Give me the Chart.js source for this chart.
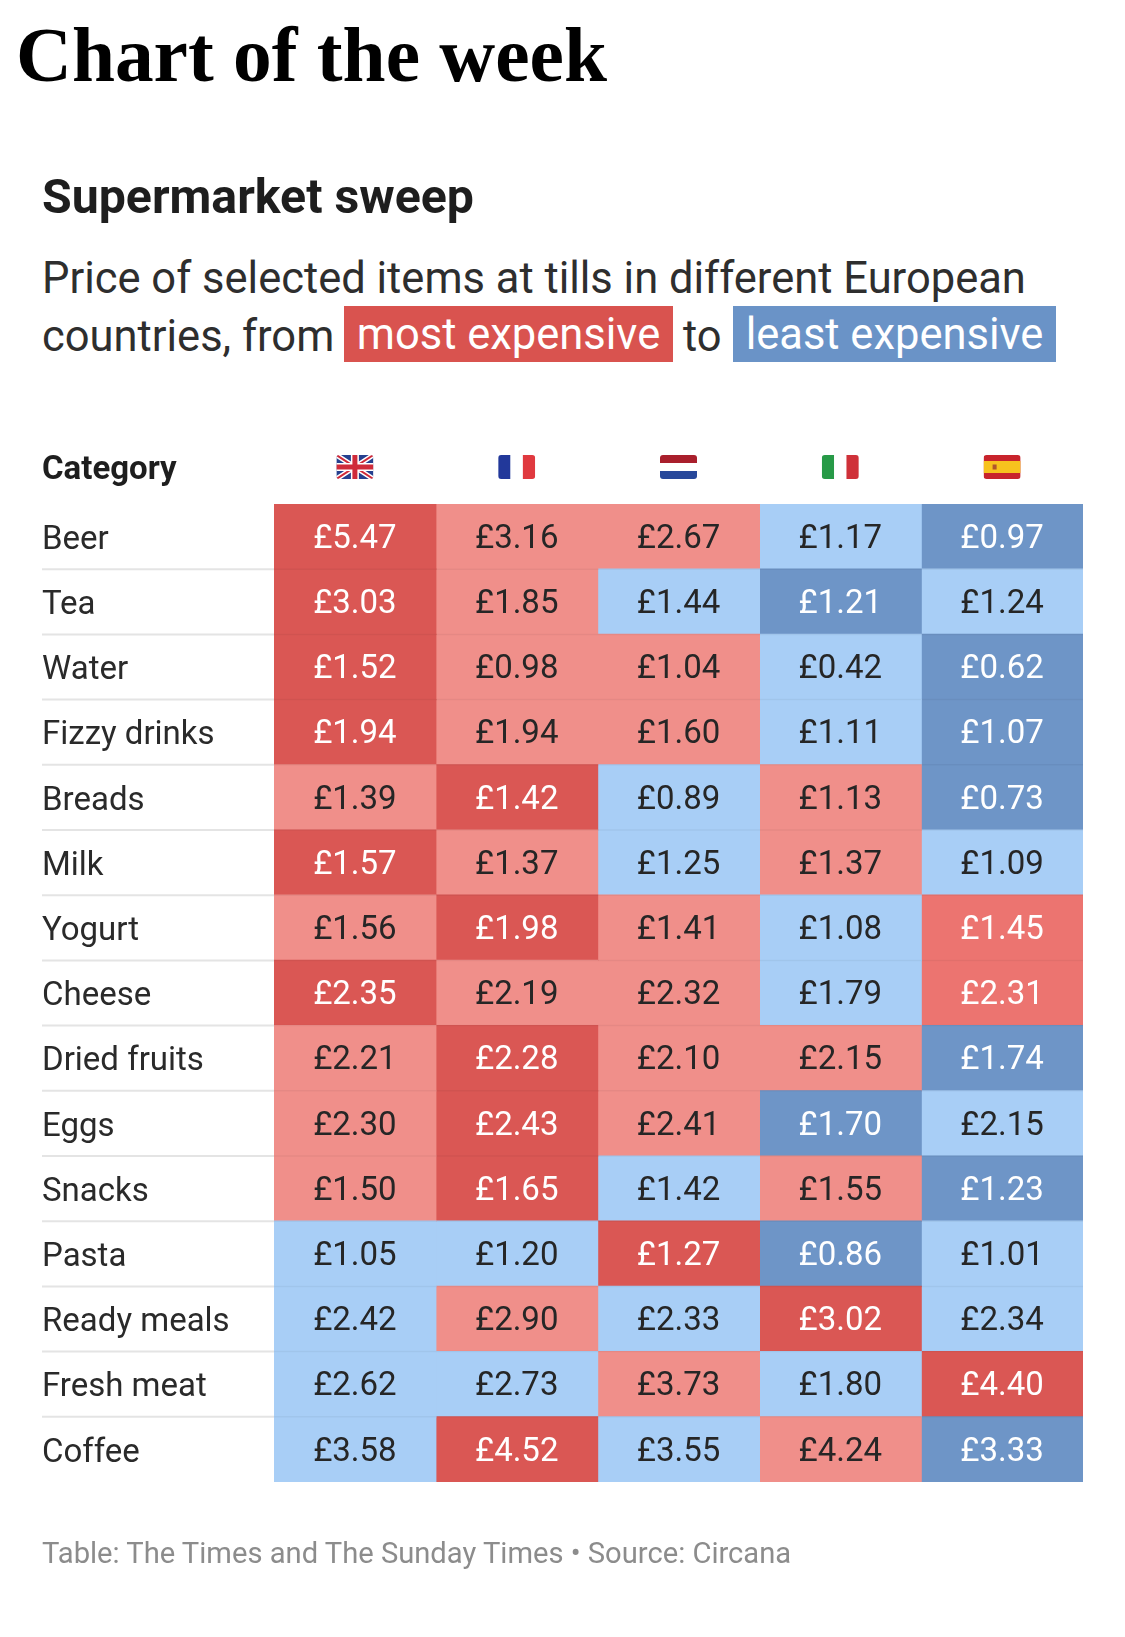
<!DOCTYPE html>
<html>
<head>
<meta charset="utf-8">
<script src="https://cdn.jsdelivr.net/npm/chart.js@4.4.1/dist/chart.umd.min.js"></script>
<style>
  html, body { margin:0; padding:0; background:#fff; width:1125px; height:1637px; overflow:hidden; }
  .t { position:absolute; white-space:nowrap; margin:0; }
  #title { font-family:"Liberation Serif", serif; font-weight:bold; color:#000; }
  #headline { font-family:Roboto, sans-serif; font-weight:bold; color:#1e1e1e; }
  .sub { font-family:Roboto, sans-serif; font-weight:normal; color:#2e2e2e; }
  .box { position:absolute; color:#fff; font-family:Roboto, sans-serif; text-align:center; white-space:nowrap; }
  #foot { font-family:Roboto, sans-serif; color:#8c8c8c; }
  #wrap { position:absolute; left:0; top:420px; width:1125px; height:1120px; }
</style>
</head>
<body>
<div id="title" class="t">Chart of the week</div>
<div id="headline" class="t">Supermarket sweep</div>
<div id="sub1" class="t sub">Price of selected items at tills in different European</div>
<div id="sub2a" class="t sub">countries, from</div>
<div id="boxRed" class="box">most expensive</div>
<div id="sub2b" class="t sub">to</div>
<div id="boxBlue" class="box">least expensive</div>
<div id="wrap"><canvas id="c" width="1125" height="1120"></canvas></div>
<div id="foot" class="t">Table: The Times and The Sunday Times • Source: Circana</div>
<script>
// ---------------- DATA ----------------
const countries = ['UK', 'France', 'Netherlands', 'Italy', 'Spain'];
const categories = ['Beer', 'Tea', 'Water', 'Fizzy drinks', 'Breads', 'Milk', 'Yogurt', 'Cheese',
  'Dried fruits', 'Eggs', 'Snacks', 'Pasta', 'Ready meals', 'Fresh meat', 'Coffee'];

const priceUK          = [5.47, 3.03, 1.52, 1.94, 1.39, 1.57, 1.56, 2.35, 2.21, 2.30, 1.50, 1.05, 2.42, 2.62, 3.58];
const priceFrance      = [3.16, 1.85, 0.98, 1.94, 1.42, 1.37, 1.98, 2.19, 2.28, 2.43, 1.65, 1.20, 2.90, 2.73, 4.52];
const priceNetherlands = [2.67, 1.44, 1.04, 1.60, 0.89, 1.25, 1.41, 2.32, 2.10, 2.41, 1.42, 1.27, 2.33, 3.73, 3.55];
const priceItaly       = [1.17, 1.21, 0.42, 1.11, 1.13, 1.37, 1.08, 1.79, 2.15, 1.70, 1.55, 0.86, 3.02, 1.80, 4.24];
const priceSpain       = [0.97, 1.24, 0.62, 1.07, 0.73, 1.09, 1.45, 2.31, 1.74, 2.15, 1.23, 1.01, 2.34, 4.40, 3.33];

// colour band: 0 most expensive, 1 expensive, 4 fairly expensive, 2 cheap, 3 least expensive
const bandUK          = [0, 0, 0, 0, 1, 0, 1, 0, 1, 1, 1, 2, 2, 2, 2];
const bandFrance      = [1, 1, 1, 1, 0, 1, 0, 1, 0, 0, 0, 2, 1, 2, 0];
const bandNetherlands = [1, 2, 1, 1, 2, 2, 1, 1, 1, 1, 2, 0, 2, 1, 2];
const bandItaly       = [2, 3, 2, 2, 1, 1, 2, 2, 1, 3, 1, 3, 0, 2, 1];
const bandSpain       = [3, 2, 3, 3, 3, 2, 4, 4, 3, 2, 3, 2, 2, 0, 3];

const prices = [priceUK, priceFrance, priceNetherlands, priceItaly, priceSpain];
const bands  = [bandUK, bandFrance, bandNetherlands, bandItaly, bandSpain];

// ---------------- STYLE ----------------
const bandFill = ['#da5754', '#f08f8a', '#a8cef6', '#6e95c7', '#ec7470'];
const bandText = ['#ffffff', '#262626', '#262626', '#ffffff', '#ffffff'];

// ---------------- HTML text placement ----------------
const mc = document.createElement('canvas').getContext('2d');
function measure(text, font) { mc.font = font; return mc.measureText(text).width; }
function place(id, x, baseline, size) {
  const el = document.getElementById(id);
  el.style.fontSize = size + 'px';
  el.style.lineHeight = size + 'px';
  el.style.left = x + 'px';
  el.style.top = (baseline - 0.84 * size) + 'px';
}
function fitSize(text, fontTpl, size0, targetW) {
  return size0 * targetW / measure(text, fontTpl.replace('{s}', size0));
}
const sTitle = fitSize('Chart of the week', 'bold {s}px "Liberation Serif"', 77, 591);
place('title', 16, 82, sTitle);
const sHead = fitSize('Supermarket sweep', 'bold {s}px Roboto', 46, 432);
place('headline', 42, 214, sHead);
const sSub = fitSize('Price of selected items at tills in different European', '{s}px Roboto', 42, 984);
place('sub1', 42, 294, sSub);
place('sub2a', 42, 352, sSub);
place('sub2b', 683, 352, sSub);
function box(id, x1, y1, x2, y2, bg) {
  const el = document.getElementById(id);
  Object.assign(el.style, { left: x1 + 'px', top: y1 + 'px', width: (x2 - x1) + 'px', height: (y2 - y1) + 'px',
    background: bg, fontSize: sSub + 'px', lineHeight: (y2 - y1 + 2) + 'px' });
}
box('boxRed', 344, 306, 673, 362, '#d9534f');
box('boxBlue', 733, 306, 1056, 362, '#6a93c7');
const sFoot = fitSize('Table: The Times and The Sunday Times • Source: Circana', '{s}px Roboto', 28, 752);
place('foot', 42, 1564, sFoot);

// ---------------- flags ----------------
function rr(ctx, x, y, w, h, r) {
  ctx.beginPath();
  ctx.moveTo(x + r, y); ctx.lineTo(x + w - r, y); ctx.quadraticCurveTo(x + w, y, x + w, y + r);
  ctx.lineTo(x + w, y + h - r); ctx.quadraticCurveTo(x + w, y + h, x + w - r, y + h);
  ctx.lineTo(x + r, y + h); ctx.quadraticCurveTo(x, y + h, x, y + h - r);
  ctx.lineTo(x, y + r); ctx.quadraticCurveTo(x, y, x + r, y); ctx.closePath();
}
function drawFlag(ctx, code, cx, cy) {
  const w = 37, h = 24, x = cx - w / 2, y = cy - h / 2;
  ctx.save();
  rr(ctx, x, y, w, h, 3); ctx.clip();
  if (code === 'UK') {
    ctx.fillStyle = '#25408f'; ctx.fillRect(x, y, w, h);
    ctx.lineCap = 'butt';
    ctx.strokeStyle = '#fff'; ctx.lineWidth = 5;
    ctx.beginPath(); ctx.moveTo(x, y); ctx.lineTo(x + w, y + h); ctx.moveTo(x + w, y); ctx.lineTo(x, y + h); ctx.stroke();
    ctx.strokeStyle = '#cf2b3a'; ctx.lineWidth = 2;
    ctx.beginPath(); ctx.moveTo(x, y); ctx.lineTo(x + w, y + h); ctx.moveTo(x + w, y); ctx.lineTo(x, y + h); ctx.stroke();
    ctx.fillStyle = '#fff'; ctx.fillRect(cx - 4, y, 8, h); ctx.fillRect(x, cy - 4, w, 8);
    ctx.fillStyle = '#cf2b3a'; ctx.fillRect(cx - 2.5, y, 5, h); ctx.fillRect(x, cy - 2.5, w, 5);
  } else if (code === 'France') {
    ctx.fillStyle = '#22389a'; ctx.fillRect(x, y, w / 3, h);
    ctx.fillStyle = '#ffffff'; ctx.fillRect(x + w / 3, y, w / 3, h);
    ctx.fillStyle = '#e0393f'; ctx.fillRect(x + 2 * w / 3, y, w / 3, h);
  } else if (code === 'Netherlands') {
    ctx.fillStyle = '#a91f2c'; ctx.fillRect(x, y, w, h / 3);
    ctx.fillStyle = '#ffffff'; ctx.fillRect(x, y + h / 3, w, h / 3);
    ctx.fillStyle = '#27479a'; ctx.fillRect(x, y + 2 * h / 3, w, h / 3);
  } else if (code === 'Italy') {
    ctx.fillStyle = '#279a47'; ctx.fillRect(x, y, w / 3, h);
    ctx.fillStyle = '#ffffff'; ctx.fillRect(x + w / 3, y, w / 3, h);
    ctx.fillStyle = '#cf3139'; ctx.fillRect(x + 2 * w / 3, y, w / 3, h);
  } else if (code === 'Spain') {
    ctx.fillStyle = '#c8232c'; ctx.fillRect(x, y, w, h);
    ctx.fillStyle = '#f7c21e'; ctx.fillRect(x, y + h / 4, w, h / 2);
    ctx.fillStyle = '#b0552c'; ctx.fillRect(x + 9, cy - 2.5, 4, 5);
  }
  ctx.restore();
}

// ---------------- plugin: header, separators, cell labels ----------------
const tablePlugin = {
  id: 'tablePlugin',
  beforeDatasetsDraw(chart) {
    const { ctx, chartArea, scales } = chart;
    const ys = scales.y;
    ctx.save();
    ctx.strokeStyle = '#e4e4e4'; ctx.lineWidth = 2;
    for (let j = 1; j < categories.length; j++) {
      const yy = (ys.getPixelForValue(j - 1) + ys.getPixelForValue(j)) / 2;
      ctx.beginPath(); ctx.moveTo(42, yy); ctx.lineTo(chartArea.left, yy); ctx.stroke();
    }
    // header row
    const hy = chartArea.top - 37;
    ctx.fillStyle = '#1e1e1e'; ctx.font = 'bold 33px Roboto'; ctx.textBaseline = 'middle'; ctx.textAlign = 'left';
    ctx.fillText('Category', 42, hy + 4);
    const xs = scales.x;
    countries.forEach((c, i) => drawFlag(ctx, c, xs.getPixelForValue(i + 0.5), hy));
    ctx.restore();
  },
  afterDatasetsDraw(chart) {
    const { ctx, chartArea, scales } = chart;
    const ys = scales.y;
    ctx.save();
    ctx.strokeStyle = 'rgba(0,0,0,0.045)'; ctx.lineWidth = 1.5;
    for (let j = 1; j < categories.length; j++) {
      const yy = (ys.getPixelForValue(j - 1) + ys.getPixelForValue(j)) / 2;
      ctx.beginPath(); ctx.moveTo(chartArea.left, yy); ctx.lineTo(chartArea.right, yy); ctx.stroke();
    }
    ctx.font = '33px Roboto'; ctx.textAlign = 'center'; ctx.textBaseline = 'middle';
    chart.data.datasets.forEach((ds, i) => {
      const meta = chart.getDatasetMeta(i);
      meta.data.forEach((bar, j) => {
        const p = bar.getCenterPoint();
        ctx.fillStyle = bandText[bands[i][j]];
        ctx.fillText('£' + prices[i][j].toFixed(2), p.x, p.y + 3);
      });
    });
    ctx.restore();
  }
};

// each country is one column: a floating bar spanning its column slot on the x scale
const datasets = countries.map((c, i) => ({
  label: c,
  data: prices[i].map(() => [i, i + 1]),
  backgroundColor: bands[i].map(b => bandFill[b]),
  borderWidth: 0,
  grouped: false,
  barPercentage: 1,
  categoryPercentage: 1,
  inflateAmount: 0.6
}));

new Chart(document.getElementById('c'), {
  type: 'bar',
  data: { labels: categories, datasets },
  options: {
    indexAxis: 'y',
    responsive: false,
    animation: false,
    layout: { padding: { left: 42, right: 42, top: 84, bottom: 58 } },
    plugins: { legend: { display: false }, tooltip: { enabled: false } },
    scales: {
      x: { type: 'linear', min: 0, max: 5, display: false },
      y: {
        type: 'category',
        grid: { display: false },
        border: { display: false },
        ticks: { crossAlign: 'far', color: '#2a2a2a', font: { family: 'Roboto', size: 33 }, padding: 0, labelOffset: 4 },
        afterFit(scale) { scale.width = 232; }
      }
    }
  },
  plugins: [tablePlugin]
});
</script>
</body>
</html>
